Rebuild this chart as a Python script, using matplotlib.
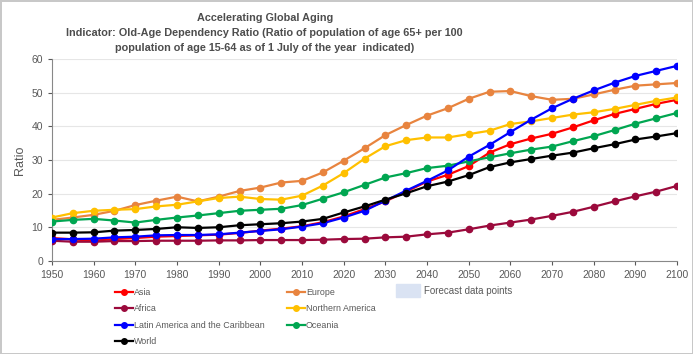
import matplotlib.pyplot as plt
from matplotlib.lines import Line2D
from matplotlib.patches import Patch

years = list(range(1950, 2101, 5))

asia = [6.8, 6.4, 6.0, 6.5, 6.8, 7.2, 7.4, 7.6, 7.8, 8.3, 9.0, 9.6, 10.3, 11.5, 13.2,
        15.4, 17.7, 20.6, 23.6, 25.6, 28.2, 32.2, 34.7, 36.4, 37.8, 39.7, 41.8, 43.7,
        45.2, 46.7, 47.9]
africa = [6.0, 5.7, 5.7, 5.9, 5.9, 6.0, 6.0, 6.0, 6.1, 6.1, 6.2, 6.2, 6.2, 6.3, 6.5,
          6.6, 7.0, 7.2, 7.9, 8.4, 9.4, 10.5, 11.4, 12.3, 13.4, 14.6, 16.1, 17.7,
          19.2, 20.6, 22.3]
latam = [6.5, 6.5, 6.6, 7.0, 7.2, 7.6, 7.7, 7.7, 7.9, 8.4, 8.9, 9.4, 10.2, 11.2, 12.9,
         14.9, 17.9, 20.9, 23.8, 26.9, 31.0, 34.5, 38.3, 42.0, 45.4, 48.2, 50.7, 53.0,
         55.0, 56.5, 58.0]
world = [8.4, 8.4, 8.5, 9.0, 9.2, 9.5, 10.0, 9.8, 10.0, 10.6, 10.9, 11.2, 11.7, 12.5,
         14.4, 16.2, 18.2, 20.1, 22.2, 23.6, 25.5, 27.9, 29.3, 30.3, 31.3, 32.2, 33.5,
         34.7, 36.1, 37.0, 38.0]
europe = [12.2, 12.9, 13.7, 14.9, 16.6, 17.9, 19.1, 17.7, 19.1, 20.8, 21.8, 23.3, 23.8,
          26.3, 29.8, 33.5, 37.4, 40.4, 43.2, 45.4, 48.2, 50.3, 50.5, 49.0, 47.9, 48.2,
          49.5, 50.9, 52.1, 52.5, 52.9]
n_america = [12.9, 14.2, 14.9, 15.2, 15.4, 16.2, 16.7, 17.7, 18.7, 19.1, 18.4, 18.2,
             19.4, 22.4, 26.1, 30.4, 34.1, 35.9, 36.7, 36.7, 37.7, 38.7, 40.7, 41.5,
             42.5, 43.5, 44.2, 45.2, 46.4, 47.6, 48.6]
oceania = [11.7, 12.2, 12.5, 12.0, 11.4, 12.2, 12.9, 13.5, 14.2, 14.9, 15.2, 15.5, 16.6,
           18.5, 20.4, 22.6, 24.8, 26.1, 27.6, 28.3, 29.6, 30.8, 32.0, 33.1, 34.0, 35.6,
           37.1, 38.9, 40.8, 42.4, 44.0]

series = [
    ("Asia", asia, "#ff0000"),
    ("Africa", africa, "#9b0a3c"),
    ("Europe", europe, "#e8843f"),
    ("Northern America", n_america, "#ffc000"),
    ("Oceania", oceania, "#00a651"),
    ("Latin America and the Caribbean", latam, "#0000ff"),
    ("World", world, "#000000"),
]

plt.rcParams['font.family'] = ['Liberation Sans', 'DejaVu Sans']
grey = "#595959"

fig = plt.figure(figsize=(6.93, 3.54), dpi=100)
fig.patch.set_edgecolor("#c8c8c8")
fig.patch.set_linewidth(2)
ax = fig.add_axes([0.075, 0.263, 0.902, 0.570])

handles = {}
for name, vals, col in series:
    h, = ax.plot(years, vals, color=col, lw=1.6, marker="o", ms=4.5, zorder=3)
    handles[name] = h

ax.set_xlim(1950, 2100)
ax.set_ylim(0, 60)
ax.set_xticks(range(1950, 2101, 10))
ax.set_yticks(range(0, 61, 10))
ax.tick_params(colors=grey, labelsize=7.5, length=3, width=0.8)
ax.grid(axis="y", color="#e6e6e6", lw=0.8)
ax.set_axisbelow(True)
for s in ["top", "right"]:
    ax.spines[s].set_visible(False)
for s in ["left", "bottom"]:
    ax.spines[s].set_color("#888888")
ax.set_ylabel("Ratio", color=grey, fontsize=9)

title_lines = [
    "Accelerating Global Aging",
    "Indicator: Old-Age Dependency Ratio (Ratio of population of age 65+ per 100",
    "population of age 15-64 as of 1 July of the year  indicated)",
]
for i, line in enumerate(title_lines):
    fig.text(0.382, 0.949 - i * 0.043, line, ha="center", va="center",
             fontsize=7.8, fontweight="bold", color="#4d4d4d")


def make_legend(names, x):
    hs = [Line2D([], [], color=handles[n].get_color(), lw=1.6, marker="o", ms=4) for n in names]
    leg = fig.legend(hs, list(names), loc="upper left", bbox_to_anchor=(x, 0.186),
                     frameon=False, fontsize=6.4, handlelength=2.0, handletextpad=0.15,
                     labelspacing=0.82, borderaxespad=0, borderpad=0)
    for t in leg.get_texts():
        t.set_color(grey)
    return leg


make_legend(["Asia", "Africa", "Latin America and the Caribbean", "World"], 0.166)
make_legend(["Europe", "Northern America", "Oceania"], 0.414)
leg3 = fig.legend([Patch(color="#dae3f3")], ["Forecast data points"], loc="upper left",
                  bbox_to_anchor=(0.572, 0.198), frameon=False, fontsize=7,
                  handlelength=2.4, handleheight=1.7, handletextpad=0.4, borderpad=0,
                  borderaxespad=0)
for t in leg3.get_texts():
    t.set_color(grey)

fig.savefig("out.png", dpi=100)
